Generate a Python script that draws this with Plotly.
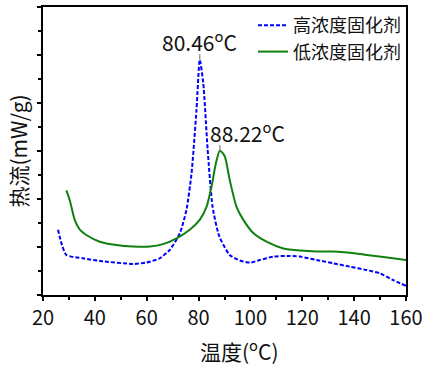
import plotly.graph_objects as go

# High-concentration curing agent (blue, dashed)
high_x = [25.8, 27.1, 29.0, 35.4, 41.9, 54.7, 59.9, 65.0, 68.9, 72.8, 75.3, 77.3, 79.2, 80.46,
          81.8, 83.5, 85.4, 88.0, 92.0, 95.9, 99.8, 103.7, 108.8, 114.0, 119.1, 125.5, 132.0,
          138.4, 144.8, 150.0, 155.1, 160.0]
high_y = [1.36, 1.08, 0.835, 0.765, 0.71, 0.647, 0.675, 0.765, 0.94, 1.29, 1.77, 2.54, 3.86, 4.9,
          4.42, 3.03, 1.84, 1.22, 0.835, 0.72, 0.675, 0.73, 0.80, 0.814, 0.80, 0.73, 0.66,
          0.59, 0.52, 0.45, 0.31, 0.19]

# Low-concentration curing agent (green, solid)
low_x = [29.0, 30.3, 32.2, 34.2, 36.7, 41.9, 48.3, 54.7, 61.2, 66.3, 71.5, 76.6, 80.5, 83.1,
         85.0, 86.7, 88.22, 90.1, 92.0, 94.6, 97.2, 101.1, 106.2, 112.7, 119.1, 125.5, 132.0,
         138.4, 144.8, 151.3, 160.0]
low_y = [2.18, 1.98, 1.57, 1.36, 1.25, 1.11, 1.04, 1.01, 1.01, 1.06, 1.18, 1.36, 1.57, 1.84,
         2.26, 2.75, 3.01, 2.89, 2.40, 1.84, 1.57, 1.29, 1.11, 0.97, 0.925, 0.905, 0.905,
         0.88, 0.835, 0.79, 0.73]

names = ["高浓度固化剂", "低浓度固化剂"]
peaks_x = [80.46, 88.22]
peaks_y = [4.9, 3.01]
peak_labels = ["80.46<sup>o</sup>C", "88.22<sup>o</sup>C"]
label_xshift = [0, 28]

FONT = "Noto Sans CJK SC"

fig = go.Figure()
fig.add_trace(go.Scatter(x=high_x, y=high_y, mode="lines", name=names[0],
                         line=dict(color="#0000ff", width=2, dash="4px,2px", shape="spline", smoothing=0.6)))
fig.add_trace(go.Scatter(x=low_x, y=low_y, mode="lines", name=names[1],
                         line=dict(color="#108010", width=2, shape="spline", smoothing=0.6)))

for px, py, lab, xs in zip(peaks_x, peaks_y, peak_labels, label_xshift):
    # small grey peak marker
    fig.add_annotation(x=px, y=py, text="", showarrow=True, arrowhead=0, arrowwidth=1.5,
                       arrowcolor="#999999", ax=0, ay=-7)
    fig.add_annotation(x=px, y=py, text=lab, showarrow=False, yanchor="bottom",
                       xshift=xs, yshift=1,
                       font=dict(family=FONT, size=21, color="#111111"))

# x-axis title
fig.add_annotation(xref="paper", yref="paper", x=0.54, y=-0.19, text="温度(<sup>o</sup>C)",
                   showarrow=False, xanchor="center", yanchor="middle",
                   font=dict(family=FONT, size=21, color="#111111"))

fig.update_layout(
    width=429, height=366,
    margin=dict(l=43, r=23, t=7, b=71, autoexpand=False),
    paper_bgcolor="white", plot_bgcolor="white",
    font=dict(family=FONT, color="#111111"),
    showlegend=True,
    legend=dict(x=1.0, y=1.0, xanchor="right", yanchor="top", bgcolor="rgba(0,0,0,0)",
                font=dict(family=FONT, size=18), tracegroupgap=0, itemwidth=30,
                traceorder="normal"),
    xaxis=dict(range=[20, 160], tickvals=[20, 40, 60, 80, 100, 120, 140, 160],
               ticks="outside", ticklen=4, tickwidth=1.5, tickcolor="black",
               minor=dict(dtick=10, ticks="outside", ticklen=3, tickwidth=1.5, tickcolor="black"),
               showline=True, linecolor="black", linewidth=2, mirror=True,
               showgrid=False, zeroline=False, automargin=False,
               tickfont=dict(family=FONT, size=20)),
    yaxis=dict(range=[0, 6], dtick=1, ticks="outside", ticklen=4, tickwidth=1.5, tickcolor="black",
               minor=dict(dtick=0.5, ticks="outside", ticklen=3, tickwidth=1.5, tickcolor="black"),
               showticklabels=False, automargin=False,
               showline=True, linecolor="black", linewidth=2, mirror=True,
               showgrid=False, zeroline=False,
               title=dict(text="热流(mW/g)", font=dict(family=FONT, size=21), standoff=4)),
)

fig.write_html("out.html", config={"responsive": False, "displayModeBar": False},
               post_script="document.body.style.margin='0';document.body.style.padding='0';")
